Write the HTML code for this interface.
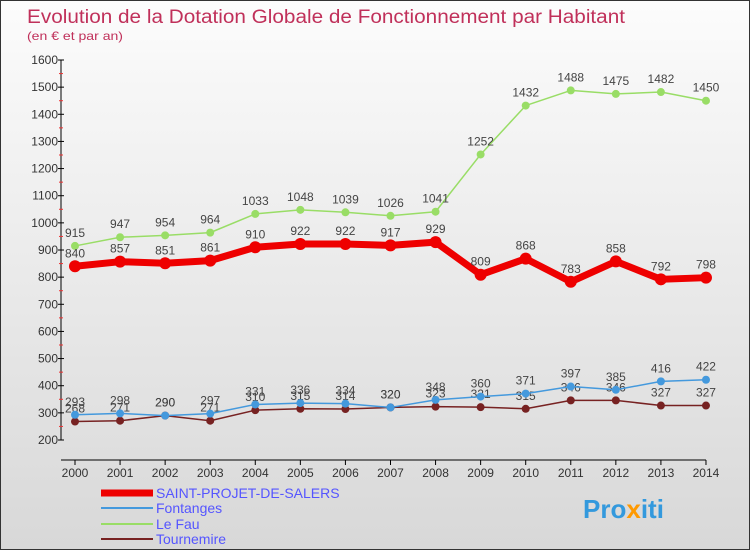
<!DOCTYPE html>
<html><head><meta charset="utf-8"><style>
body{margin:0}
#c{width:748px;height:548px;border:1px solid #333;background:linear-gradient(#fcfcfc,#d8d8d8);position:relative;font-family:"Liberation Sans",sans-serif}
</style></head><body>
<div id="c">
<svg id="s" width="748" height="548" xmlns="http://www.w3.org/2000/svg">
<text x="26" y="22" font-size="19" fill="#c0305a" textLength="598" lengthAdjust="spacingAndGlyphs">Evolution de la Dotation Globale de Fonctionnement par Habitant</text>
<text x="26" y="39" font-size="12" fill="#c0305a" textLength="96" lengthAdjust="spacingAndGlyphs">(en € et par an)</text>
<g id="axes"></g><g id="series"></g>
<g>
<line x1="100" y1="492" x2="152" y2="492" stroke="#e00" stroke-width="7"/><text x="155" y="497" font-size="14" fill="#55f">SAINT-PROJET-DE-SALERS</text>
<line x1="100" y1="507" x2="152" y2="507" stroke="#4499dd" stroke-width="2"/><text x="155" y="512" font-size="14" fill="#55f">Fontanges</text>
<line x1="100" y1="523" x2="152" y2="523" stroke="#99dd66" stroke-width="2"/><text x="155" y="528" font-size="14" fill="#55f">Le Fau</text>
<line x1="100" y1="538" x2="152" y2="538" stroke="#772222" stroke-width="2"/><text x="155" y="543" font-size="14" fill="#55f">Tournemire</text>
</g>
<text x="582" y="517" font-size="26" font-weight="bold" fill="#3399dd">Pro<tspan fill="#ff9900">x</tspan>iti</text>
</svg></div>
<script>
const years=[2000,2001,2002,2003,2004,2005,2006,2007,2008,2009,2010,2011,2012,2013,2014];
const saint=[840,857,851,861,910,922,922,917,929,809,868,783,858,792,798];
const fontanges=[293,298,290,297,331,336,334,320,348,360,371,397,385,416,422];
const lefau=[915,947,954,964,1033,1048,1039,1026,1041,1252,1432,1488,1475,1482,1450];
const tournemire=[268,271,290,271,310,315,314,320,323,321,315,346,346,327,327];
const yTicks=[200,300,400,500,600,700,800,900,1000,1100,1200,1300,1400,1500,1600];
const NS="http://www.w3.org/2000/svg";
const X=i=>74+i*45.07, Y=v=>439-(v-200)*380/1400;
function mk(t,a,p){const e=document.createElementNS(NS,t);for(const k in a)e.setAttribute(k,a[k]);p.appendChild(e);return e;}
const ax=document.getElementById('axes'),se=document.getElementById('series');
mk('line',{x1:60,y1:Y(1600),x2:60,y2:Y(200),stroke:'#000'},ax);
mk('line',{x1:60,y1:459,x2:X(14),y2:459,stroke:'#000'},ax);
yTicks.forEach(v=>{mk('line',{x1:57,y1:Y(v),x2:63,y2:Y(v),stroke:'#000'},ax);
const t=mk('text',{x:57,y:Y(v)+4,'font-size':12,'text-anchor':'end',fill:'#333'},ax);t.textContent=v;


if(v<1600)mk('line',{x1:58,y1:Y(v+50),x2:62,y2:Y(v+50),stroke:'#e33'},ax);});
years.forEach((y,i)=>{mk('line',{x1:X(i),y1:459,x2:X(i),y2:464,stroke:'#000'},ax);
const t=mk('text',{x:X(i),y:476,'font-size':12,'text-anchor':'middle',fill:'#333'},ax);t.textContent=y;

});
function draw(data,color,w,r,name){const g=mk('g',{},se);


mk('polyline',{points:data.map((v,i)=>X(i)+','+Y(v)).join(' '),fill:'none',stroke:color,'stroke-width':w,'stroke-linejoin':'round'},g);
data.forEach((v,i)=>{mk('circle',{cx:X(i),cy:Y(v),r:r,fill:color},g);
const t=mk('text',{x:X(i),y:Y(v)-9,'font-size':12,'text-anchor':'middle',fill:'#444'},g);t.textContent=v;});}
draw(tournemire,'#772222',1.5,4,'series-tournemire');
draw(fontanges,'#4499dd',1.5,4,'series-fontanges');
draw(lefau,'#99dd66',1.5,4,'series-le-fau');
draw(saint,'#ee0000',7,6,'series-saint-projet');
</script>
</body></html>
